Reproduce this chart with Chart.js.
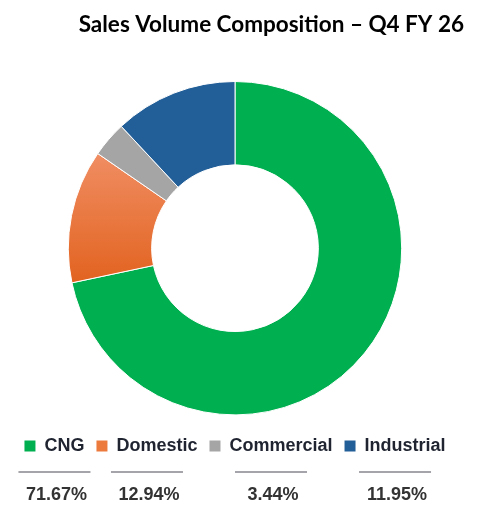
<!DOCTYPE html>
<html>
<head>
<meta charset="utf-8">
<title>Sales Volume Composition</title>
<script src="https://cdn.jsdelivr.net/npm/chart.js@4/dist/chart.umd.min.js"></script>
<style>
  html, body { margin: 0; padding: 0; background: #fff; }
  #wrap { width: 492px; height: 517px; position: relative; }
</style>
</head>
<body>
<div id="wrap"><canvas id="chart"></canvas></div>
<script>
// segment names and their share of sales volume (%)
const segments = ["CNG", "Domestic", "Commercial", "Industrial"];
const shares = [71.67, 12.94, 3.44, 11.95];

const segmentColors = ["#00b050", "#ec7a3c", "#a5a5a5", "#225e97"];

// the orange slice in the picture fades lighter towards the top
function sliceFill(context) {
  const i = context.dataIndex;
  const area = context.chart.chartArea;
  if (i !== 1 || !area || context.type !== "data") {
    return segmentColors[i];
  }
  const g = context.chart.ctx.createLinearGradient(
    0, area.top + area.height * 0.22, 0, area.top + area.height * 0.63
  );
  g.addColorStop(0, "#f08d62");
  g.addColorStop(1, "#e1601b");
  return g;
}

// grey rule and percentage under every legend entry
const underLegend = {
  id: "underLegend",
  afterDraw(chart) {
    const ctx = chart.ctx;
    const boxes = chart.legend.legendHitBoxes;
    ctx.save();
    boxes.forEach((hb, i) => {
      const cx = hb.left + hb.width / 2;
      const cy = hb.top + hb.height / 2;
      ctx.strokeStyle = "#a4a4aa";
      ctx.lineWidth = 2;
      ctx.beginPath();
      ctx.moveTo(cx - 36, cy + 26);
      ctx.lineTo(cx + 36, cy + 26);
      ctx.stroke();

      ctx.fillStyle = "#333333";
      ctx.font = 'bold 18px "Liberation Sans", Arial, sans-serif';
      ctx.textAlign = "center";
      ctx.textBaseline = "middle";
      ctx.fillText(shares[i].toFixed(2) + "%", cx + 2, cy + 49);
    });
    ctx.restore();
  },
};

new Chart(document.getElementById("chart"), {
  type: "doughnut",
  data: {
    labels: segments,
    datasets: [
      {
        data: shares,
        backgroundColor: sliceFill,
        borderColor: "#ffffff",
        borderWidth: 1,
      },
    ],
  },
  options: {
    responsive: true,
    maintainAspectRatio: false,
    animation: false,
    cutout: "50%",
    layout: {
      padding: { left: 6, right: 28, top: 0, bottom: 52 },
    },
    plugins: {
      title: {
        display: true,
        text: "Sales Volume Composition – Q4 FY 26",
        align: "end",
        color: "#000000",
        font: { family: "Lato", size: 22.5, weight: "bold" },
        padding: { top: 11, bottom: 43 },
      },
      legend: {
        position: "bottom",
        // empty title only used as a spacer above the legend row
        title: { display: true, text: " ", font: { size: 8 }, padding: 0 },
        labels: {
          boxWidth: 11,
          boxHeight: 11,
          padding: 12,
          color: "#1f2430",
          font: { family: "'Liberation Sans', Arial, sans-serif", size: 18, weight: "bold" },
          generateLabels(chart) {
            return segments.map((name, i) => ({
              text: name,
              fillStyle: segmentColors[i],
              strokeStyle: segmentColors[i],
              fontColor: "#1f2430",
              lineWidth: 0,
              hidden: false,
              index: i,
            }));
          },
        },
      },
      tooltip: { enabled: false },
    },
  },
  plugins: [underLegend],
});
</script>
</body>
</html>
